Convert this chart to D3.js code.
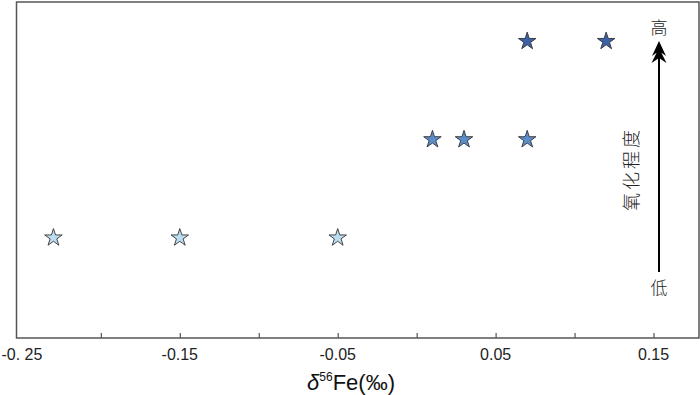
<!DOCTYPE html>
<html>
<head>
<meta charset="utf-8">
<script src="https://cdn.jsdelivr.net/npm/d3@7"></script>
<style>
  body { margin: 0; background: #fff; }
  svg { display: block; }
</style>
</head>
<body>
<svg width="700" height="395"></svg>
<script>
// delta56Fe values, grouped by oxidation level (1 = low, 3 = high)
var fe56 = [-0.23, -0.15, -0.05, 0.01, 0.03, 0.07, 0.07, 0.12];
var oxLevel = [1, 1, 1, 2, 2, 2, 3, 3];
var levelColors = ["#bcdcf0", "#5b8dcb", "#3b62a6"];
var tickValues = [-0.2, -0.15, -0.1, -0.05, 0, 0.05, 0.1, 0.15];
var labelValues = [-0.25, -0.15, -0.05, 0.05, 0.15];
var labelText = ["-0. 25", "-0.15", "-0.05", "0.05", "0.15"];

function drawChart() {
  var svg = d3.select("svg");
  var plotLeft = 16.5, plotRight = 699, plotTop = 2, plotBottom = 338;
  var latin = "'Liberation Sans Narrow', 'Liberation Sans', Arial, sans-serif";

  var xScale = d3.scaleLinear()
                 .domain([-0.2534, 0.1788])
                 .range([plotLeft, plotRight]);

  var yScale = d3.scaleLinear()
                 .domain([-0.02, 3.4])
                 .range([plotBottom, plotTop]);

  var data = fe56.map(function(v, i) {
    return { fe: v, level: oxLevel[i] };
  });

  // frame
  svg.append("rect")
      .attr("x", plotLeft)
      .attr("y", plotTop)
      .attr("width", plotRight - plotLeft)
      .attr("height", plotBottom - plotTop)
      .attr("fill", "none")
      .attr("stroke", "#555")
      .attr("stroke-width", 1.5);

  // inward ticks on the bottom axis
  var xAxis = d3.axisBottom(xScale)
                .tickValues(tickValues)
                .tickSizeInner(-5)
                .tickSizeOuter(0)
                .tickFormat("");

  var gx = svg.append("g")
      .attr("transform", "translate(0," + plotBottom + ")")
      .call(xAxis);
  gx.select(".domain").remove();
  gx.selectAll(".tick line").attr("stroke", "#555").attr("stroke-width", 1.2);

  svg.append("g")
    .selectAll("text")
    .data(labelValues)
    .enter()
    .append("text")
      .attr("x", d => xScale(d))
      .attr("y", 360)
      .attr("text-anchor", "middle")
      .style("font-family", latin)
      .style("font-size", "16px")
      .attr("fill", "#222")
      .text((d, i) => labelText[i]);

  // axis title
  var title = svg.append("text")
      .attr("x", 351)
      .attr("y", 390)
      .attr("text-anchor", "middle")
      .style("font-family", latin)
      .style("font-size", "22px")
      .attr("fill", "#111");
  title.append("tspan").style("font-style", "italic").text("δ");
  title.append("tspan").attr("dy", -9).style("font-size", "12px").text("56");
  title.append("tspan").attr("dy", 9).text("Fe(‰)");

  // stars
  var star = d3.symbol().type(d3.symbolStar).size(95);

  svg.append("g")
    .selectAll("path")
    .data(data)
    .enter()
    .append("path")
      .attr("d", star)
      .attr("transform", d => "translate(" + xScale(d.fe) + "," + yScale(d.level) + ")")
      .attr("fill", d => levelColors[d.level - 1])
      .attr("stroke", "#333")
      .attr("stroke-width", 0.9);

  // oxidation arrow
  var ax = 659;
  svg.append("line")
      .attr("x1", ax)
      .attr("x2", ax)
      .attr("y1", 272)
      .attr("y2", 58)
      .attr("stroke", "#000")
      .attr("stroke-width", 2);

  svg.append("path")
      .attr("d", "M" + ax + ",41 L" + (ax + 7) + ",56 L" + ax + ",51 L" + (ax - 7) + ",56 Z" +
                 "M" + ax + ",48 L" + (ax + 7.5) + ",63 L" + ax + ",58 L" + (ax - 7.5) + ",63 Z")
      .attr("fill", "#000");

  var cjk = "'Noto Sans CJK SC', sans-serif";

  svg.append("text")
      .attr("x", ax)
      .attr("y", 34)
      .attr("text-anchor", "middle")
      .style("font-family", cjk)
      .style("font-size", "17px")
      .style("font-weight", 300)
      .attr("fill", "#222")
      .text("高");

  svg.append("text")
      .attr("x", ax)
      .attr("y", 294)
      .attr("text-anchor", "middle")
      .style("font-family", cjk)
      .style("font-size", "17px")
      .style("font-weight", 300)
      .attr("fill", "#222")
      .text("低");

  svg.append("text")
      .attr("transform", "translate(638,169) rotate(-90)")
      .attr("text-anchor", "middle")
      .style("font-family", cjk)
      .style("font-size", "18px")
      .style("font-weight", 300)
      .style("letter-spacing", "3px")
      .attr("fill", "#222")
      .text("氧化程度");
}

drawChart();
</script>
</body>
</html>
